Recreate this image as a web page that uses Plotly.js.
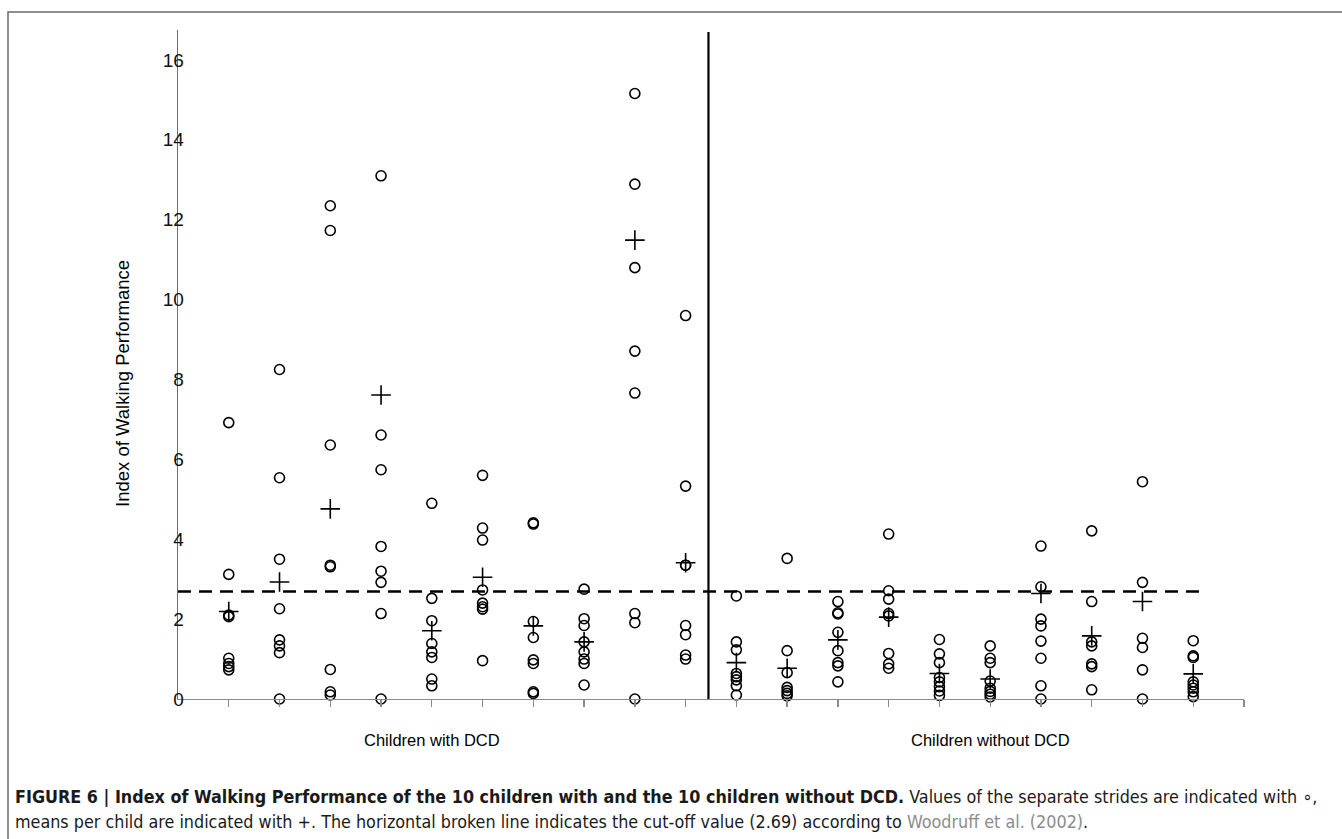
<!DOCTYPE html>
<html>
<head>
<meta charset="utf-8">
<script src="https://cdn.plot.ly/plotly-3.0.1.min.js"></script>
<style>
  html, body { margin: 0; padding: 0; background: #ffffff; }
  #chart { width: 1342px; height: 839px; }
</style>
</head>
<body>
<div id="chart"></div>
<script>
// ---- Data ----
// Stride values per child (children 1-10: with DCD, 11-20: without DCD)
const child01 = [6.92, 3.12, 2.10, 2.06, 1.02, 0.89, 0.81, 0.73];
const child02 = [8.25, 5.54, 3.50, 2.26, 1.48, 1.33, 1.16, 0.00];
const child03 = [12.35, 11.73, 6.36, 3.35, 3.31, 0.74, 0.18, 0.10];
const child04 = [13.10, 6.61, 5.74, 3.82, 3.20, 2.92, 2.14, 0.00];
const child05 = [4.90, 2.52, 1.96, 1.39, 1.18, 1.04, 0.50, 0.33];
const child06 = [5.60, 4.28, 3.98, 2.73, 2.40, 2.31, 2.25, 0.96];
const child07 = [4.41, 4.38, 1.94, 1.54, 0.98, 0.89, 0.18, 0.14];
const child08 = [2.75, 2.01, 1.84, 1.43, 1.18, 1.00, 0.89, 0.35];
const child09 = [15.16, 12.89, 10.80, 8.71, 7.66, 2.14, 1.91, 0.00];
const child10 = [9.60, 5.33, 3.35, 3.35, 1.84, 1.61, 1.10, 1.00];
const child11 = [2.58, 1.43, 1.23, 0.64, 0.56, 0.48, 0.33, 0.10];
const child12 = [3.52, 1.21, 0.66, 0.29, 0.21, 0.14, 0.08];
const child13 = [2.44, 2.16, 2.13, 1.67, 1.21, 0.91, 0.83, 0.43];
const child14 = [4.13, 2.71, 2.50, 2.14, 2.08, 1.14, 0.88, 0.77];
const child15 = [1.49, 1.13, 0.91, 0.54, 0.43, 0.31, 0.20, 0.09];
const child16 = [1.33, 1.02, 0.91, 0.45, 0.27, 0.19, 0.12, 0.05];
const child17 = [3.83, 2.81, 2.00, 1.83, 1.45, 1.02, 0.33, 0.00];
const child18 = [4.21, 2.44, 1.43, 1.33, 0.88, 0.81, 0.23];
const child19 = [5.44, 2.92, 1.52, 1.29, 0.73, 0.00];
const child20 = [1.46, 1.08, 1.04, 0.43, 0.35, 0.27, 0.18, 0.06];

// Means per child
const dcdMeans    = [2.19, 2.93, 4.76, 7.61, 1.71, 3.05, 1.83, 1.43, 11.49, 3.41];
const nonDcdMeans = [0.91, 0.77, 1.48, 2.05, 0.64, 0.50, 2.64, 1.58, 2.44, 0.63];

const groupLabels = ["Children with DCD", "Children without DCD"];
const groupLabelPos = [5, 16];
const yTickVals = [0, 2, 4, 6, 8, 10, 12, 14, 16];
const xTickVals = [1, 2, 3, 4, 5, 6, 7, 8, 9, 10, 11, 12, 13, 14, 15, 16, 17, 18, 19, 20, 21];
const cutoff = 2.69;
const dividerX = 10.45;
const dividerTop = 16.7;
const cutoffEnd = 20.23;

// ---- Build traces ----
const children = [child01, child02, child03, child04, child05, child06, child07, child08, child09, child10,
                  child11, child12, child13, child14, child15, child16, child17, child18, child19, child20];
const strideX = [], strideY = [];
children.forEach((vals, i) => vals.forEach(v => { strideX.push(i + 1); strideY.push(v); }));
const means = dcdMeans.concat(nonDcdMeans);
const meanX = means.map((_, i) => i + 1);

const strides = {
  x: strideX, y: strideY, type: 'scatter', mode: 'markers', name: 'Strides',
  marker: { symbol: 'circle-open', size: 10, color: '#000', line: { width: 1.6, color: '#000' } },
  cliponaxis: false, hoverinfo: 'y'
};
const meanTrace = {
  x: meanX, y: means, type: 'scatter', mode: 'markers', name: 'Mean',
  marker: { symbol: 'cross-thin-open', size: 14, color: '#000', line: { width: 1.6, color: '#000' } },
  cliponaxis: false, hoverinfo: 'y'
};
const cutoffLine = {
  x: [0, cutoffEnd], y: [cutoff, cutoff], type: 'scatter', mode: 'lines', name: 'Cut-off',
  line: { color: '#000', width: 2.6, dash: '13px,8px' }, hoverinfo: 'skip'
};
const dividerLine = {
  x: [dividerX, dividerX], y: [0, dividerTop], type: 'scatter', mode: 'lines', name: 'Divider',
  line: { color: '#000', width: 2.2 }, hoverinfo: 'skip'
};

// plot area: x 178..1244 px, y 30..699 px
const L = 178, R = 1342 - 1244, T = 30, B = 839 - 699;
const PW = 1342 - L - R, PH = 839 - T - B;
const px = p => (p - L) / PW;
const py = p => (839 - B - p) / PH;

const baseFont = { family: 'Liberation Sans, Arial, sans-serif', color: '#000' };
const capFont = { family: '"Liberation Sans Narrow", "DejaVu Sans Condensed", "Liberation Sans", sans-serif', size: 17.8, color: '#1a1a1a' };

const annotations = groupLabels.map((t, i) => ({
  text: t, x: groupLabelPos[i], xref: 'x', y: 0, yref: 'paper', yshift: -41,
  showarrow: false, xanchor: 'center', yanchor: 'middle',
  font: Object.assign({}, baseFont, { size: 16.5 })
}));
annotations.push({
  text: 'Index of Walking Performance', textangle: -90,
  x: px(122), xref: 'paper', y: py(384), yref: 'paper',
  showarrow: false, xanchor: 'center', yanchor: 'middle',
  font: Object.assign({}, baseFont, { size: 18.5 })
});
annotations.push({
  text: '<b>FIGURE 6 | Index of Walking Performance of the 10 children with and the 10 children without DCD.</b> Values of the separate strides are indicated with \u2218,',
  x: px(13), xref: 'paper', y: py(797), yref: 'paper',
  showarrow: false, xanchor: 'left', yanchor: 'middle', align: 'left', font: capFont
});
annotations.push({
  text: 'means per child are indicated with +. The horizontal broken line indicates the cut-off value (2.69) according to <span style="color:#8c8c8c">Woodruff et al. (2002)</span>.',
  x: px(13), xref: 'paper', y: py(821), yref: 'paper',
  showarrow: false, xanchor: 'left', yanchor: 'middle', align: 'left', font: capFont
});

const layout = {
  width: 1342, height: 839,
  margin: { l: L, r: R, t: T, b: B, pad: 0 },
  paper_bgcolor: '#fff', plot_bgcolor: '#fff',
  showlegend: false,
  font: baseFont,
  xaxis: {
    range: [0, 21], showgrid: false, zeroline: false,
    showline: true, linecolor: '#8a8a8a', linewidth: 1.3,
    tickmode: 'array', tickvals: xTickVals, showticklabels: false,
    ticks: 'outside', ticklen: 7, tickwidth: 1.3, tickcolor: '#8a8a8a'
  },
  yaxis: {
    range: [0, 16.75], showgrid: false, zeroline: false,
    showline: true, linecolor: '#707070', linewidth: 1.3,
    tickmode: 'array', tickvals: yTickVals, ticks: '',
    ticklabelstandoff: -11,
    tickfont: Object.assign({}, baseFont, { size: 19, color: '#111' })
  },
  annotations: annotations,
  shapes: [{
    type: 'rect', xref: 'paper', yref: 'paper',
    x0: px(8), x1: px(1350), y0: py(850), y1: py(12),
    line: { color: '#6a6a6a', width: 1.5 }, fillcolor: 'rgba(0,0,0,0)', layer: 'below'
  }]
};

Plotly.newPlot('chart', [cutoffLine, dividerLine, strides, meanTrace], layout, { displayModeBar: false, staticPlot: true });
</script>
</body>
</html>
